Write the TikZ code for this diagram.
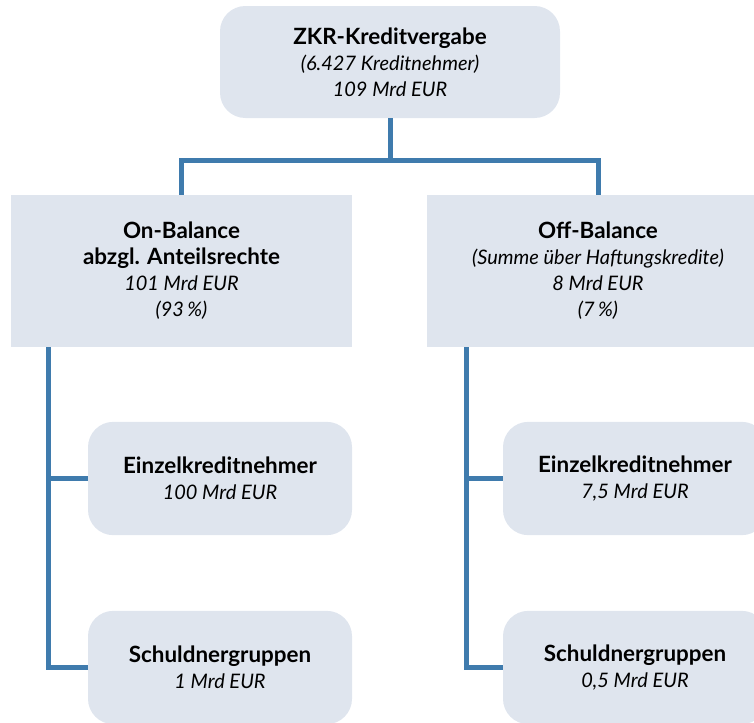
\documentclass[tikz,border=0pt]{standalone}
\usepackage{fontspec}
\setmainfont{Lato}
\definecolor{boxfill}{HTML}{DFE5EE}
\definecolor{linkblue}{HTML}{3F7BAD}
\newcommand{\hd}[1]{{\fontsize{16.8}{19.5}\selectfont\bfseries #1}}
\begin{document}
\begin{tikzpicture}[x=0.75pt,y=-0.75pt,
    sbox/.style={fill=boxfill,align=center,inner sep=0pt,
      font=\fontsize{15}{19.5}\selectfont},
    rbox/.style={sbox,rounded corners=19pt},
    link/.style={draw=linkblue,line width=3.75pt}]
    \useasboundingbox (0,0) rectangle (754,722);
    \clip (0,0) rectangle (754,722);
    \node[rbox,minimum width=255pt,minimum height=84pt] (zkr) at (390,62)
      {\hd{ZKR-Kreditvergabe}\\\textit{(6.427 Kreditnehmer)}\\\textit{109 Mrd EUR}};
    \node[sbox,minimum width=256pt,minimum height=114pt] (onbal) at (181.5,271)
      {\hd{On-Balance}\\\hd{abzgl. Anteilsrechte}\\\textit{101 Mrd EUR}\\\textit{(93\,\%)}};
    \node[sbox,minimum width=256pt,minimum height=114pt] (offbal) at (598,271)
      {\hd{Off-Balance}\\\textit{(Summe über Haftungskredite)}\\\textit{8 Mrd EUR}\\\textit{(7\,\%)}};
    \node[rbox,minimum width=198pt,minimum height=85pt] (einzelL) at (220,478.5)
      {\hd{Einzelkreditnehmer}\\\textit{100 Mrd EUR}};
    \node[rbox,minimum width=198pt,minimum height=85pt] (schuldL) at (220,667.5)
      {\hd{Schuldnergruppen}\\\textit{1 Mrd EUR}};
    \node[rbox,minimum width=198pt,minimum height=85pt] (einzelR) at (635,478.5)
      {\hd{Einzelkreditnehmer}\\\textit{7,5 Mrd EUR}};
    \node[rbox,minimum width=198pt,minimum height=85pt] (schuldR) at (635,667.5)
      {\hd{Schuldnergruppen}\\\textit{0,5 Mrd EUR}};
    % tree lines
    \coordinate (split) at (390,160);
    \coordinate (railL) at (48.5,347);
    \coordinate (railR) at (466,347);
    \draw[link] (zkr.south) -- (split) -| (onbal.north);
    \draw[link] (split) -| (offbal.north);
    \draw[link] (railL) |- (einzelL.west);
    \draw[link] (railL) |- (schuldL.west);
    \draw[link] (railR) |- (einzelR.west);
    \draw[link] (railR) |- (schuldR.west);
  \end{tikzpicture}
\end{document}
